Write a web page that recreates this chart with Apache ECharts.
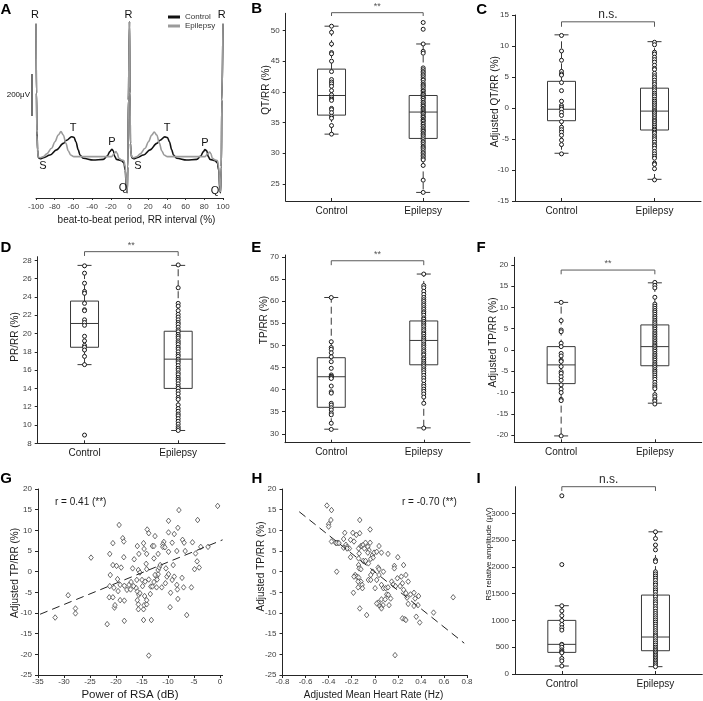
<!DOCTYPE html>
<html><head><meta charset="utf-8">
<script src="https://cdn.jsdelivr.net/npm/echarts@6/dist/echarts.min.js"></script>
<style>html,body{margin:0;padding:0;background:#fff}#c{width:703px;height:701px}</style>
</head><body><div id="c"></div>
<script>
// ---------- Panel A : averaged ECG (µV) vs RR interval (%) ----------
const ecgCtrlX = [-100,-99.5,-99,-98.3,-97.5,-95.5,-92,-85,-78,-70.8,-67.3,-61.9,-59.4,-57.3,-54.8,-53,-49.5,-38.8,-28,-23.8,-21,-18.9,-17.4,-15.7,-13.9,-8.5,-6,-4.6,-3.2,-2.5,-1.8,-1.2,0,
  0.5,1,1.7,2.5,4.5,8,15,22,29.2,32.7,37.8,40.6,42.7,45.2,47,50.5,61.2,72,76.2,79,80.6,82.6,84.3,86.1,91.5,94,95.4,96.6,97.4,98.2,98.8,100];
const ecgCtrlY = [630,300,120,30,-8,-13,-8,5,29,60,75,92,89,68,29,5,-11,-19,-16,0,21,32,25,-3,-16,-22,-32,-67,-162,-175,-51,267,640,
  300,60,10,-8,-13,-8,5,29,60,75,91,88,68,29,5,-11,-19,-16,0,21,31,25,-3,-16,-22,-32,-67,-162,-175,-51,267,630];
const ecgEpiX = [-100,-99.5,-99,-98.3,-97.5,-95.5,-92,-88.6,-83.3,-79.7,-76.2,-73.3,-70.8,-68,-65.5,-63,-59.4,-40,-25,-19.2,-16.7,-14.6,-13.2,-11.4,-8.5,-6,-4.6,-3.2,-2.5,-1.8,-1.2,0,
  0.5,1,1.7,2.5,4.5,8,11.4,16.7,20.3,23.8,26.4,29.2,32,34.5,37,40.6,60,75,80.8,83.3,85.6,87,88.6,91.5,94,95.4,96.6,97.4,98.2,98.8,100];
const ecgEpiY = [630,300,100,25,-5,-8,-3,10,37,68,100,116,100,60,25,5,-3,-3,-3,-3,10,21,13,-11,-19,-22,-51,-146,-170,-51,267,640,
  300,60,10,-5,-8,-3,10,37,68,100,114,100,60,25,5,-3,-3,-3,-3,10,19,12,-11,-19,-22,-51,-146,-170,-51,267,630];
const ecgLabels = ['R','R','R','S','S','T','T','P','P','Q','Q'];
const ecgLabelX = [-101,-1,98.7,-92.5,9,-60.4,40.1,-18.7,80.7,-7,91.4];
const ecgLabelY = [670,670,670,-48,-48,133,133,67,62,-152,-167];
const scaleBarX = -104.3, scaleBarFrom = 190, scaleBarTo = 390;   // 200 µV bar
const groups = ['Control','Epilepsy'];

// ---------- Box panels: [lower whisker, Q1, median, Q3, upper whisker] ----------
const bBoxCtrl = [33.1,36.2,39.4,43.7,50.7], bBoxEpi = [23.6,32.4,36.7,39.4,47.8];
const cBoxCtrl = [-7.3,-2.05,-0.2,4.3,11.8], cBoxEpi = [-11.5,-3.55,-0.5,3.2,10.7];
const dBoxCtrl = [16.6,18.5,21.1,23.55,27.45], dBoxEpi = [9.4,14.0,17.2,20.25,27.45];
const eBoxCtrl = [31.05,36.0,42.9,47.2,60.8], eBoxEpi = [31.35,45.6,51.1,55.5,66.1];
const fBoxCtrl = [-20.2,-7.9,-3.5,0.8,11.2], fBoxEpi = [-12.5,-3.7,0.8,5.9,15.8];
const iBoxCtrl = [149,404,554,1002,1276], iBoxEpi = [137,435,691,1475,2657];

// ---------- Individual points ----------
const bCtrl = [50.7,49.7,47.8,46.4,46.2,45.0,43.3,42.0,41.6,41.3,40.9,40.2,39.5,39.1,38.8,38.6,37.3,37.1,36.6,36.0,35.7,34.5,33.1];
const bEpi = [51.3,50.2,47.8,46.6,46.3,43.9,43.6,43.3,43.1,42.8,42.6,42.3,42.0,41.9,41.5,41.2,41.0,40.8,40.5,40.2,40.1,39.8,39.6,39.5,39.2,39.0,38.9,38.6,38.3,38.2,37.9,37.7,37.6,37.3,37.1,36.9,36.7,36.5,36.4,36.1,35.9,35.8,35.5,35.3,35.2,34.9,34.7,34.4,34.3,34.0,33.8,33.6,33.5,33.2,33.0,32.8,32.5,32.2,31.9,31.7,31.4,31.1,30.9,30.7,30.4,30.1,29.9,29.6,29.4,29.1,28.9,28.0,25.6,23.6];
const cCtrl = [11.7,9.2,7.7,5.9,5.5,5.3,4.1,2.8,1.1,0.4,0.1,-0.2,-0.7,-1.2,-2.2,-3.1,-3.5,-3.9,-4.4,-5.2,-5.9,-7.4];
const cEpi = [10.6,10.2,9.0,8.7,8.2,7.8,7.4,6.9,6.4,6.2,5.6,5.2,4.9,4.5,4.1,3.8,3.4,3.1,2.8,2.4,2.1,1.8,1.4,1.1,0.8,0.5,0.2,-0.1,-0.4,-0.6,-0.8,-1.1,-1.4,-1.7,-2.0,-2.2,-2.5,-2.8,-3.1,-3.4,-3.6,-3.9,-4.1,-4.5,-4.8,-5.1,-5.5,-5.9,-6.1,-6.5,-7.0,-7.4,-7.8,-8.1,-8.9,-9.1,-9.8,-11.6];
const dCtrl = [27.4,26.6,25.5,24.6,24.4,23.3,22.6,22.5,21.5,21.2,20.9,19.7,19.2,18.7,18.5,18.2,17.5,16.6,8.9];
const dEpi = [27.5,25.0,23.3,23.0,22.5,22.1,21.8,21.5,21.2,21.0,20.7,20.4,20.2,19.9,19.7,19.5,19.2,19.0,18.8,18.5,18.3,18.0,17.7,17.5,17.2,17.0,16.8,16.5,16.2,16.0,15.7,15.5,15.2,15.0,14.8,14.5,14.2,14.0,13.7,13.4,13.0,12.8,12.2,11.8,11.5,11.2,11.0,10.7,10.4,10.1,9.8,9.6,9.4];
const eCtrl = [60.8,50.8,49.5,49.1,48.3,47.4,46.3,44.8,43.3,43.0,42.9,42.7,42.5,40.8,39.5,39.2,36.9,36.5,35.9,35.4,34.7,34.3,32.4,31.0];
const eEpi = [66.1,63.5,63.0,62.2,61.5,60.8,60.3,59.9,59.4,59.0,58.5,58.1,57.6,57.3,56.8,56.2,55.9,55.4,55.0,54.6,54.2,53.7,53.3,52.8,52.5,52.0,51.6,51.2,50.8,50.3,49.9,49.5,49.0,48.6,48.1,47.8,47.2,46.9,46.4,46.0,45.6,45.2,44.7,44.3,43.8,43.2,42.6,42.0,41.2,40.7,40.1,39.6,39.0,38.3,36.9,31.3];
const fCtrl = [11.2,6.9,4.7,4.3,1.6,0.8,-0.8,-1.4,-2.4,-2.7,-3.9,-5.1,-5.5,-6.3,-7.1,-8.2,-9.2,-10.0,-11.6,-11.9,-20.2];
const fEpi = [15.9,15.2,14.6,12.4,10.8,10.3,9.8,9.3,8.9,8.4,7.9,7.5,7.0,6.6,6.2,5.7,5.3,4.9,4.4,4.0,3.6,3.2,2.8,2.4,2.0,1.6,1.2,0.9,0.5,0.1,-0.3,-0.8,-1.2,-1.6,-2.0,-2.4,-2.9,-3.3,-3.7,-4.1,-4.6,-5.0,-5.4,-5.9,-6.4,-6.9,-7.6,-8.2,-8.7,-9.1,-10.5,-11.0,-11.7,-12.0,-12.7];
const iCtrl = [3330,2045,1275,1180,1090,1000,925,865,820,555,545,500,450,420,410,395,290,245,150];
const iEpi = [2657,2530,2410,2320,2130,2100,1910,1870,1830,1790,1750,1700,1660,1610,1570,1530,1480,1440,1390,1350,1310,1260,1220,1170,1130,1090,1050,1010,970,930,890,850,810,770,730,700,660,620,580,540,500,470,440,410,380,350,320,290,260,230,200,170,137];

// ---------- Panel G : Power of RSA (dB) vs adjusted TP/RR (%) ----------
const gX = [-0.45,-7.9,-4.3,-9.9,-19.4,-14.0,-13.7,-8.1,-9.9,-8.8,-12.5,-18.7,-18.5,-20.6,-5.3,-7.2,-6.9,-9.2,-10.8,-11.0,-13.0,-12.7,-11.0,-10.6,-14.7,-15.9,-14.6,-15.6,-14.1,-21.2,-18.5,-24.8,-12.7,-11.9,-9.9,-8.3,-6.7,-4.7,-4.4,-3.7,-2.3,-16.5,-20.6,-19.9,-19.0,-16.8,-15.7,-15.4,-19.7,-21.1,-21.2,-20.4,-19.2,-18.4,-17.9,-17.5,-17.1,-16.6,-16.1,-15.9,-15.6,-15.4,-14.5,-16.0,-15.0,-14.4,-13.7,-13.3,-12.7,-12.2,-12.1,-11.9,-11.9,-11.7,-11.5,-12.5,-10.4,-10.2,-10.5,-9.2,-8.8,-8.3,-8.2,-7.3,-7.0,-11.2,-9.5,-8.1,-9.6,-5.5,-4.9,-4.0,-6.4,-29.2,-27.8,-27.8,-31.7,-21.7,-18.4,-14.7,-13.2,-13.7,-14.7,-14.6,-15.7,-15.7,-15.9,-14.1,-14.1,-20.3,-20.2,-21.3,-19.2,-18.4,-12.2,-13.4,-13.0,-14.9,-17.2,-20.6,-19.6,-14.1,-14.2,-9.0,-9.9];
const gY = [15.9,14.9,12.5,12.3,11.3,10.2,9.3,10.6,9.5,9.1,8.6,8.1,7.3,6.9,7.1,7.7,7.0,7.0,7.2,6.6,6.2,6.2,6.0,5.9,6.9,6.2,5.5,4.3,4.3,4.3,3.5,3.4,3.2,4.3,4.8,5.0,5.0,4.4,2.5,6.0,6.0,3.0,1.6,1.4,1.0,0.8,0.4,-0.2,-1.8,-0.8,-3.5,-3.9,-3.2,-3.4,-4.4,-3.2,-2.5,-3.5,-4.0,-4.8,-5.6,-5.2,-5.9,-2.0,-2.0,-2.4,-1.9,-3.6,-2.5,-1.2,-1.9,-0.6,0.4,1.0,1.6,-0.8,0.8,-1.2,-2.8,-2.0,-1.2,-3.2,-4.3,-1.5,-3.8,-3.8,-5.1,-6.6,-8.6,-3.8,0.6,1.0,-10.5,-5.7,-8.9,-10.1,-11.1,-12.7,-11.9,-11.7,-11.7,-20.3,-9.1,-8.1,-7.9,-9.1,-6.9,-7.9,-6.9,-8.7,-8.1,-6.2,-6.9,-7.0,-3.8,-5.4,-3.6,-3.5,-4.3,-6.2,-4.7,0.6,1.9,1.6,-0.6];
const gFitX = [-34.6,0.5], gFitY = [-10.3,7.7];

// ---------- Panel H : adjusted mean heart rate (Hz) vs adjusted TP/RR (%) ----------
const hX = [-0.415,-0.375,-0.38,-0.40,-0.40,-0.375,-0.34,-0.32,-0.33,-0.31,-0.33,-0.26,-0.27,-0.19,-0.16,-0.13,-0.13,-0.04,-0.21,-0.18,-0.25,-0.24,-0.22,-0.21,-0.14,-0.135,-0.12,-0.11,-0.10,-0.09,-0.08,-0.06,-0.05,-0.04,-0.06,-0.02,-0.006,0.017,0.037,0.058,0.115,-0.14,-0.10,-0.08,-0.055,-0.035,-0.014,-0.14,-0.135,-0.12,-0.035,0.03,0.037,0.075,0.037,-0.17,-0.156,-0.14,-0.12,-0.11,-0.107,-0.144,-0.185,-0.055,-0.035,0.003,0.058,0.075,0.095,0.115,0.147,0.16,0.18,0.196,0.17,0.17,0.20,0.25,0.23,0.27,0.24,0.29,0.22,0.25,0.27,0.31,0.34,0.38,0.35,0.28,0.29,0.34,0.375,0.36,0.39,0.24,0.26,0.27,0.51,0.68,0.176,0.124,0.138,0.104,0.072,0.052,0.037,0.03,0.017,0.058,0.058,-0.13,-0.07,0.09,0.118,0.017,-0.18,-0.017,-0.144,-0.27,-0.24];
const hY = [16.0,14.9,12.5,11.5,10.9,7.3,7.0,7.0,6.9,6.9,0.0,9.4,7.9,9.4,8.9,12.5,9.3,10.2,7.7,7.3,6.5,6.0,5.6,3.5,5.6,4.4,6.2,6.2,6.5,5.6,7.0,6.0,5.2,7.0,4.6,4.0,4.6,4.8,6.2,4.6,4.3,3.2,2.6,2.6,2.0,3.1,3.4,1.6,0.8,0.6,-0.8,1.0,0.6,0.0,-0.8,-0.8,-1.2,-1.4,-2.4,-3.2,-4.0,-3.8,-5.1,-2.0,-2.0,-4.0,-3.2,-4.0,-4.0,-3.8,-2.4,-3.1,-3.5,-1.6,1.4,0.8,3.5,1.6,-1.2,-0.8,-2.8,-2.4,-3.5,-4.4,-5.2,-5.5,-5.1,-5.9,-6.5,-6.3,-7.8,-8.3,-8.1,-10.9,-12.3,-11.3,-11.5,-11.7,-9.9,-6.2,-20.2,-8.1,-6.5,-5.5,-8.1,-8.5,-8.1,-7.5,-7.7,-6.7,-8.9,-8.9,-10.5,-6.7,-5.6,-2.0,-1.2,0.0,-2.4,5.8,5.6];
const hFitX = [-0.655,0.776], hFitY = [14.5,-17.3];

// ---------- rendering ----------
const FONT = '"Liberation Sans", Arial, Helvetica, sans-serif';
const AXC = '#262626', LBL = '#3c3c3c';
const grids = [
  [36,9,187,189],[285.7,13.3,183.3,187.7],[515,15,186,186],
  [37.7,256.7,187.3,186.6],[285,255,185,187.7],[514.3,257.3,187.4,185],
  [38,489,184.6,186],[282.5,489,184.5,186],[515,486.7,187.3,187.3]
];
const zip = (a,b) => a.map((v,i)=>[v,b[i]]);
const plain = v => String(Math.round(v*1000)/1000);

function valAxis(gi, min, max, step, opt){
  return Object.assign({type:'value', gridIndex:gi, min:min, max:max, minInterval:step, maxInterval:step,
    axisLine:{show:true, onZero:false, lineStyle:{color:AXC, width:1}},
    axisTick:{show:true, length:3, lineStyle:{color:AXC}},
    axisLabel:{fontSize:8, color:LBL, fontFamily:FONT, margin:6, formatter:plain},
    splitLine:{show:false}}, opt||{});
}
function catAxis(gi){
  return {type:'category', gridIndex:gi, data:groups, boundaryGap:true,
    axisLine:{onZero:false, lineStyle:{color:AXC, width:1}},
    axisTick:{show:true, alignWithLabel:true, inside:true, length:3, lineStyle:{color:AXC}},
    axisLabel:{fontSize:10, color:'#1a1a1a', fontFamily:FONT, margin:5}};
}

function boxSeries(gi, ctrl, epi){
  return {type:'custom', xAxisIndex:gi, yAxisIndex:gi, silent:true, z:2,
    data:[[0].concat(ctrl),[1].concat(epi)],
    renderItem:function(p, api){
      const x = api.value(0);
      const c = k => api.coord([x, api.value(k)]);
      const lo=c(1), q1=c(2), md=c(3), q3=c(4), hi=c(5);
      const cx = md[0], bw = 28, cw = 14;
      const solid = {stroke:'#383838', lineWidth:1, fill:null};
      const dash = {stroke:'#383838', lineWidth:1, lineDash:[7,4], fill:null};
      return {type:'group', children:[
        {type:'line', shape:{x1:cx,y1:q3[1],x2:cx,y2:hi[1]}, style:dash},
        {type:'line', shape:{x1:cx,y1:q1[1],x2:cx,y2:lo[1]}, style:dash},
        {type:'line', shape:{x1:cx-cw/2,y1:hi[1],x2:cx+cw/2,y2:hi[1]}, style:solid},
        {type:'line', shape:{x1:cx-cw/2,y1:lo[1],x2:cx+cw/2,y2:lo[1]}, style:solid},
        {type:'rect', shape:{x:cx-bw/2,y:q3[1],width:bw,height:q1[1]-q3[1]}, style:{stroke:'#383838',lineWidth:1,fill:'none'}},
        {type:'line', shape:{x1:cx-bw/2,y1:md[1],x2:cx+bw/2,y2:md[1]}, style:solid}
      ]};
    }};
}
function bracketSeries(gi, yLine, yEnd, label, big){
  return {type:'custom', xAxisIndex:gi, yAxisIndex:gi, silent:true, clip:false, z:2,
    data:[[0, yLine, yEnd]],
    renderItem:function(p, api){
      const a = api.coord([0, api.value(1)]), b = api.coord([1, api.value(1)]);
      const e = api.coord([0, api.value(2)]);
      const st = {stroke:'#5a5a5a', lineWidth:1, fill:null};
      return {type:'group', children:[
        {type:'polyline', shape:{points:[[a[0],e[1]],[a[0],a[1]],[b[0],b[1]],[b[0],e[1]]]}, style:st},
        {type:'text', x:(a[0]+b[0])/2, y:a[1]-(big?7:6.5), style:{text:label, align:'center', verticalAlign:'middle',
          font:(big?'12px ':'9px ')+FONT, fill:big?'#2a2a2a':'#555'}}
      ]};
    }};
}
function dotSeries(gi, idx, vals){
  return {type:'scatter', xAxisIndex:gi, yAxisIndex:gi, silent:true, z:3, symbol:'circle', symbolSize:4,
    itemStyle:{color:'#fff', borderColor:'#1a1a1a', borderWidth:1, opacity:1},
    data: vals.map(v=>[idx, v])};
}
function textSeries(gi, xs, ys, texts, font, align){
  return {type:'custom', xAxisIndex:gi, yAxisIndex:gi, silent:true, clip:false, z:5,
    data: zip(xs, ys),
    renderItem:function(p, api){
      const c = api.coord([api.value(0), api.value(1)]);
      return {type:'text', x:c[0], y:c[1], style:{text:texts[p.dataIndex], align:align||'center', verticalAlign:'middle', font:font, fill:'#111'}};
    }};
}
// 200 µV scale bar with its label, positioned in data units of panel A
function scaleBarSeries(gi){
  return {type:'custom', xAxisIndex:gi, yAxisIndex:gi, silent:true, clip:false, z:6,
    data:[[scaleBarX, (scaleBarFrom+scaleBarTo)/2]],
    renderItem:function(p, api){
      const a = api.coord([scaleBarX, scaleBarFrom]), b = api.coord([scaleBarX, scaleBarTo]);
      return {type:'group', children:[
        {type:'rect', shape:{x:Math.round(a[0])-0.6, y:b[1], width:1.2, height:a[1]-b[1]}, style:{fill:'#111'}},
        {type:'text', x:a[0]-2, y:(a[1]+b[1])/2, style:{text:'200\u03bcV', align:'right', verticalAlign:'middle', font:'8px '+FONT, fill:'#111'}}
      ]};
    }};
}

const xAxes = [
  valAxis(0,-100,100,20,{axisTick:{show:true,length:2,lineStyle:{color:AXC}}, axisLabel:{fontSize:8,color:LBL,fontFamily:FONT,margin:5,formatter:plain}}),
  catAxis(1), catAxis(2), catAxis(3), catAxis(4), catAxis(5),
  valAxis(6,-35,0.5,5,{axisLabel:{fontSize:8,color:LBL,fontFamily:FONT,margin:3,showMaxLabel:false,formatter:plain}}),
  valAxis(7,-0.8,0.8,0.2,{axisLabel:{fontSize:8,color:LBL,fontFamily:FONT,margin:3,formatter:plain}}),
  catAxis(8)
];
const noMinMax = {fontSize:8,color:LBL,fontFamily:FONT,margin:6,showMinLabel:false,showMaxLabel:false,formatter:plain};
const noMax = {fontSize:8,color:LBL,fontFamily:FONT,margin:6,showMaxLabel:false,formatter:plain};
const yAxes = [
  {type:'value', gridIndex:0, min:-200, max:700, show:false},
  valAxis(1,22.2,52.8,5,{axisLabel:noMinMax}),
  valAxis(2,-15,15,5),
  valAxis(3,8,28.4,2,{axisLabel:noMax}),
  valAxis(4,28,70.4,5,{axisLabel:noMinMax}),
  valAxis(5,-21.7,21.8,5,{axisLabel:noMinMax}),
  valAxis(6,-25,20,5),
  valAxis(7,-25,20,5),
  valAxis(8,0,3500,500,{axisLabel:noMax})
];

const series = [
  {name:'Control', type:'line', xAxisIndex:0, yAxisIndex:0, data:zip(ecgCtrlX, ecgCtrlY), showSymbol:false, symbol:'none',
   smooth:0.35, smoothMonotone:'x', lineStyle:{color:'#111', width:1.6}, itemStyle:{color:'#111'}, z:3, silent:true},
  {name:'Epilepsy', type:'line', xAxisIndex:0, yAxisIndex:0, data:zip(ecgEpiX, ecgEpiY), showSymbol:false, symbol:'none',
   smooth:0.35, smoothMonotone:'x', lineStyle:{color:'#9b9b9b', width:1.6}, itemStyle:{color:'#9b9b9b'}, z:4, silent:true},
  scaleBarSeries(0),
  textSeries(0, ecgLabelX, ecgLabelY, ecgLabels, '11px '+FONT),

  boxSeries(1, bBoxCtrl, bBoxEpi), bracketSeries(1, 52.9, 52.36, '**', false), dotSeries(1,0,bCtrl), dotSeries(1,1,bEpi),
  boxSeries(2, cBoxCtrl, cBoxEpi), bracketSeries(2, 13.9, 13.1, 'n.s.', true), dotSeries(2,0,cCtrl), dotSeries(2,1,cEpi),
  boxSeries(3, dBoxCtrl, dBoxEpi), bracketSeries(3, 28.95, 28.48, '**', false), dotSeries(3,0,dCtrl), dotSeries(3,1,dEpi),
  boxSeries(4, eBoxCtrl, eBoxEpi), bracketSeries(4, 69.1, 68.1, '**', false), dotSeries(4,0,eCtrl), dotSeries(4,1,eEpi),
  boxSeries(5, fBoxCtrl, fBoxEpi), bracketSeries(5, 18.8, 17.8, '**', false), dotSeries(5,0,fCtrl), dotSeries(5,1,fEpi),
  boxSeries(8, iBoxCtrl, iBoxEpi), bracketSeries(8, 3500, 3420, 'n.s.', true), dotSeries(8,0,iCtrl), dotSeries(8,1,iEpi),

  {type:'scatter', xAxisIndex:6, yAxisIndex:6, data:zip(gX,gY), symbol:'diamond', symbolSize:[4.5,5.5], silent:true,
   itemStyle:{color:'#fff', borderColor:'#333', borderWidth:0.9}},
  {type:'line', xAxisIndex:6, yAxisIndex:6, data:zip(gFitX,gFitY), symbol:'none', silent:true, z:4,
   lineStyle:{color:'#222', width:1, type:[8,5]}},
  {type:'scatter', xAxisIndex:7, yAxisIndex:7, data:zip(hX,hY), symbol:'diamond', symbolSize:[4.5,5.5], silent:true,
   itemStyle:{color:'#fff', borderColor:'#333', borderWidth:0.9}},
  {type:'line', xAxisIndex:7, yAxisIndex:7, data:zip(hFitX,hFitY), symbol:'none', silent:true, z:4,
   lineStyle:{color:'#222', width:1, type:[8,5]}}
];

function txt(t, x, y, size, opts){
  return Object.assign({type:'text', x:x, y:y, silent:true,
    style:{text:t, font:size+'px '+FONT, fill:'#1a1a1a', align:'center', verticalAlign:'middle'}}, opts||{});
}
function vtxt(t, x, y, size){ return txt(t, x, y, size||10, {rotation:Math.PI/2}); }
function letter(t, x, y){ return {type:'text', x:x, y:y, silent:true,
  style:{text:t, font:'bold 15px '+FONT, fill:'#000', align:'center', verticalAlign:'middle'}}; }
function ltxt(t, x, y){ return {type:'text', x:x, y:y, silent:true,
  style:{text:t, font:'10px '+FONT, fill:'#1a1a1a', align:'left', verticalAlign:'middle'}}; }

const graphics = [
  letter('A',6,10), letter('B',256.7,8.7), letter('C',481.7,9.5),
  letter('D',6,247.5), letter('E',256.3,248.3), letter('F',481,248.3),
  letter('G',6,478.8), letter('H',257,478.8), letter('I',478.5,478.8),
  txt('beat-to-beat period, RR interval (%)', 136.5, 220, 10),
  txt('Power of RSA (dB)', 130, 695, 11.5),
  txt('Adjusted Mean Heart Rate (Hz)', 373.5, 695, 10),
  vtxt('QT/RR (%)', 266.7, 90),
  vtxt('Adjusted QT/RR (%)', 495.3, 101.7),
  vtxt('PR/RR (%)', 15.3, 337),
  vtxt('TP/RR (%)', 264.2, 320),
  vtxt('Adjusted TP/RR (%)', 493.7, 342.5),
  vtxt('Adjusted TP/RR (%)', 15.5, 573),
  vtxt('Adjusted TP/RR (%)', 261.2, 566.5),
  vtxt('RS relative amplitude (\u03bcV)', 489.2, 554, 8),
  ltxt('r = 0.41 (**)', 55, 502),
  ltxt('r = -0.70 (**)', 402, 502)
];

const chart = echarts.init(document.getElementById('c'), null, {renderer:'canvas'});
chart.setOption({
  animation:false,
  backgroundColor:'#fff',
  textStyle:{fontFamily:FONT},
  legend:{data:['Control','Epilepsy'], left:168, top:13, orient:'vertical', itemWidth:12, itemHeight:3, itemGap:1,
    icon:'rect', textStyle:{fontSize:8, color:'#333', fontFamily:FONT}, padding:0, selectedMode:false},
  grid: grids.map(g=>({left:g[0], top:g[1], width:g[2], height:g[3], containLabel:false, outerBoundsMode:'none'})),
  xAxis: xAxes,
  yAxis: yAxes,
  series: series,
  graphic: graphics
});
</script></body></html>
